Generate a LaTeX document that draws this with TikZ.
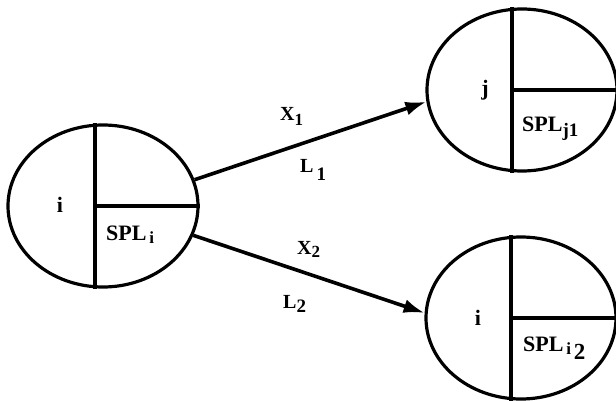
\documentclass[tikz,border=0pt]{standalone}
\usepackage{fontspec}
\setmainfont{Liberation Serif}
\usetikzlibrary{shapes.geometric,arrows.meta}
\newcommand\fs[1]{\fontsize{#1}{#1}\selectfont}
\newcommand\dn[3]{\raisebox{-#1}{\fs{#2}#3}}
\begin{document}
\begin{tikzpicture}[x=1pt,y=-1pt,>={Latex[length=21pt,width=14pt]},
    nd/.style={draw,ellipse,line width=3.2pt,minimum width=190pt,minimum height=162pt,inner sep=0pt},
    lab/.style={font=\bfseries\fs{22},inner sep=0pt},
    elab/.style={font=\bfseries\fs{20},inner sep=0pt,anchor=base west},
    sep/.style={line width=3.6pt}]
\useasboundingbox (0,0) rectangle (616,401);
\node[nd](L) at (103,206){};
\node[nd](J) at (522,90){};
\node[nd](K) at (521,318){};
% quarters
\draw[sep]([xshift=-8pt]L.north)--([xshift=-8pt]L.south);
\draw[sep]([xshift=-8pt]L.center)--(L.east);
\draw[sep]([xshift=-10pt]J.north)--([xshift=-10pt]J.south);
\draw[sep]([xshift=-10pt]J.center)--(J.east);
\draw[sep]([xshift=-10pt]K.north)--([xshift=-10pt]K.south);
\draw[sep]([xshift=-10pt]K.center)--(K.east);
% labels
\node[lab](Li) at (60,205){i};
\node[lab,anchor=base west](Ls) at (106,240){SPL\dn{3pt}{17}{\,i}};
\node[lab](Jj) at (485,90){j};
\node[lab,anchor=base west](Js) at (522,132){SPL\dn{5pt}{19}{j1}};
\node[lab](Ki) at (478,318){i};
\node[lab,anchor=base west](Ks) at (523,351){SPL\dn{3pt}{17}{\,i\,}\dn{8pt}{23}{2}};
% arcs
\draw[->,sep](L.16)--(J.187);
\draw[->,sep](L.-18)--(K.177);
\node[elab](x1) at (280,121){X\dn{5pt}{17}{1}};
\node[elab](l1) at (300,173){L\dn{7pt}{19}{\,1}};
\node[elab](x2) at (297,254){X\dn{3pt}{17}{2}};
\node[elab](l2) at (283,308){L\dn{4pt}{19}{2}};
\end{tikzpicture}
\end{document}
